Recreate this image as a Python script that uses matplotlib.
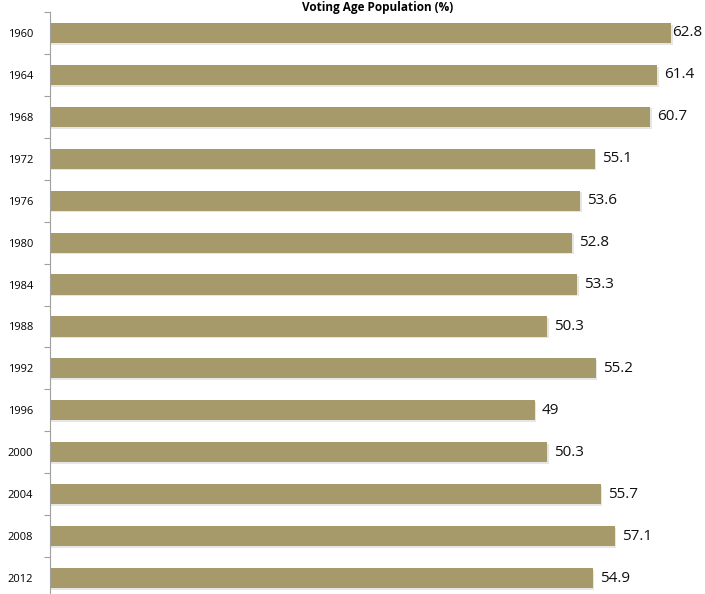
import matplotlib
matplotlib.use("Agg")
import matplotlib.pyplot as plt
import numpy as np

years = ["1960", "1964", "1968", "1972", "1976", "1980", "1984", "1988",
         "1992", "1996", "2000", "2004", "2008", "2012"]
values = [62.8, 61.4, 60.7, 55.1, 53.6, 52.8, 53.3, 50.3, 55.2, 49, 50.3, 55.7, 57.1, 54.9]
labels = ["62.8", "61.4", "60.7", "55.1", "53.6", "52.8", "53.3", "50.3",
          "55.2", "49", "50.3", "55.7", "57.1", "54.9"]
title = "Voting Age Population (%)"

plt.rcParams['font.family'] = ['Open Sans', 'DejaVu Sans']

W, H = 705, 594
fig = plt.figure(figsize=(W / 100, H / 100), dpi=100)
ax_left, ax_right = 50, 705
ax_top, ax_bottom = 12, 599
ax = fig.add_axes([ax_left / W, 1 - ax_bottom / H, (ax_right - ax_left) / W, (ax_bottom - ax_top) / H])

y = np.arange(len(years))
color = "#A69A6A"
# subtle shadow
ax.barh(y + 0.04, values, height=0.48, color="#e6e6e6", left=0.15, zorder=1)
ax.barh(y, values, height=0.48, color=color, zorder=2)

xmax = (ax_right - ax_left) / 9.89
ax.set_xlim(0, xmax)
ax.set_ylim(len(years) - 0.5, -0.5)

for s in ["top", "right", "bottom"]:
    ax.spines[s].set_visible(False)
ax.spines["left"].set_color("#a0a0a0")
ax.spines["left"].set_linewidth(0.8)
ax.set_xticks([])
ax.set_yticks(y)
ax.set_yticklabels(years, fontsize=8)
ax.tick_params(axis="y", which="major", length=0, pad=12)
ax.set_yticks(np.arange(-0.5, len(years), 1.0), minor=True)
ax.tick_params(axis="y", which="minor", length=4, color="#a0a0a0", width=0.8)

px = xmax / (ax_right - ax_left)
for yi, v, lab in zip(y, values, labels):
    xt = v + 7 * px
    if xt + 34 * px > xmax:
        xt = v + 1 * px
    ax.text(xt, yi, lab, va="center", ha="left", fontsize=11, color="#111111", clip_on=False)

fig.text((ax_left + ax_right) / 2 / W, 1 - 1 / H, title, ha="center", va="top",
         fontsize=8.5, fontweight="bold")

fig.savefig("out.png", dpi=100)
